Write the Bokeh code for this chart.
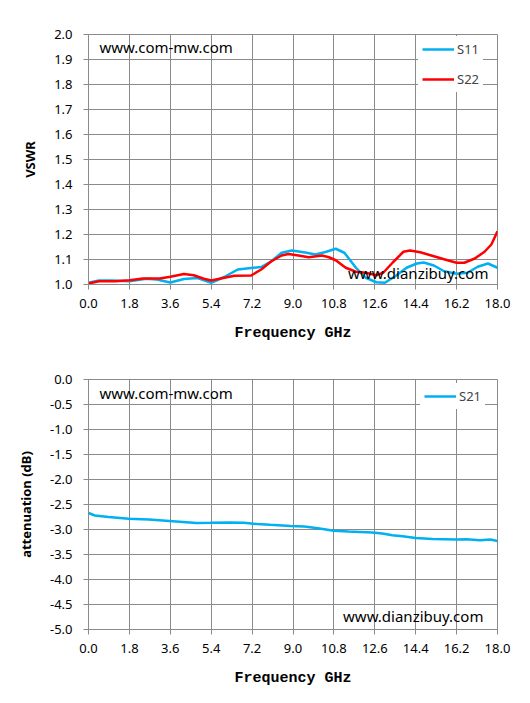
from bokeh.plotting import figure
from bokeh.models import Range1d, FixedTicker, PrintfTickFormatter, Legend, LegendItem, Label
from bokeh.layouts import column
from bokeh.embed import file_html
from bokeh.resources import INLINE

# ---- data ----
s11_f = [0.0, 0.46, 1.06, 1.8, 2.55, 3.0, 3.6, 4.2, 4.8, 5.4, 5.97, 6.57, 7.16, 7.6, 8.05, 8.5,
         8.95, 9.54, 9.99, 10.43, 10.88, 11.26, 11.77, 12.2, 12.67, 13.04, 13.5, 14.0, 14.45,
         14.75, 15.2, 15.65, 16.2, 16.68, 17.13, 17.58, 18.0]
s11_v = [1.007, 1.016, 1.016, 1.013, 1.023, 1.020, 1.008, 1.022, 1.026, 1.007, 1.030, 1.060,
         1.066, 1.070, 1.093, 1.127, 1.136, 1.128, 1.120, 1.130, 1.143, 1.127, 1.067, 1.027,
         1.009, 1.007, 1.033, 1.067, 1.084, 1.088, 1.076, 1.053, 1.043, 1.047, 1.071, 1.084, 1.067]

s22_f = [0.0, 0.46, 1.2, 1.8, 2.4, 3.14, 3.6, 4.2, 4.63, 5.08, 5.4, 5.82, 6.42, 7.16, 7.6, 8.05,
         8.5, 8.8, 9.24, 9.69, 10.28, 10.58, 10.88, 11.32, 11.77, 12.2, 12.67, 12.97, 13.4,
         13.86, 14.15, 14.6, 15.2, 15.8, 16.2, 16.54, 17.0, 17.43, 17.73, 18.0]
s22_v = [1.004, 1.013, 1.013, 1.017, 1.024, 1.024, 1.031, 1.042, 1.037, 1.023, 1.016, 1.024,
         1.035, 1.036, 1.060, 1.093, 1.116, 1.122, 1.116, 1.109, 1.116, 1.109, 1.097, 1.067,
         1.051, 1.047, 1.037, 1.047, 1.089, 1.131, 1.136, 1.129, 1.113, 1.097, 1.087, 1.087,
         1.104, 1.131, 1.160, 1.213]

s21_f = [0.0, 0.28, 0.88, 1.77, 2.66, 3.56, 4.15, 4.75, 5.37, 6.23, 6.83, 7.42, 8.0, 8.9, 9.5,
         10.09, 10.8, 11.44, 12.48, 12.93, 13.37, 13.82, 14.4, 15.14, 16.2, 16.64, 17.23, 17.68, 18.0]
s21_v = [-2.67, -2.72, -2.75, -2.785, -2.80, -2.83, -2.85, -2.87, -2.866, -2.86, -2.866, -2.89,
         -2.906, -2.93, -2.94, -2.973, -3.027, -3.04, -3.06, -3.08, -3.114, -3.134, -3.168,
         -3.188, -3.20, -3.195, -3.215, -3.20, -3.23]

x_ticks = [0.0, 1.8, 3.6, 5.4, 7.2, 9.0, 10.8, 12.6, 14.4, 16.2, 18.0]
vswr_ticks = [1.0, 1.1, 1.2, 1.3, 1.4, 1.5, 1.6, 1.7, 1.8, 1.9, 2.0]
att_ticks = [0.0, -0.5, -1.0, -1.5, -2.0, -2.5, -3.0, -3.5, -4.0, -4.5, -5.0]

BLUE = "#00B0F0"
RED = "#FF0000"
GRID = "#8a8a8a"
TICK_FONT = "Noto Sans"


def style(p, yticks, ylabel):
    p.xaxis.ticker = FixedTicker(ticks=x_ticks)
    p.yaxis.ticker = FixedTicker(ticks=yticks)
    p.xaxis.formatter = PrintfTickFormatter(format="%.1f")
    p.yaxis.formatter = PrintfTickFormatter(format="%.1f")
    for ax in (p.xaxis, p.yaxis):
        ax.axis_line_color = GRID
        ax.major_tick_line_color = GRID
        ax.minor_tick_line_color = None
        ax.major_tick_in = 0
        ax.major_tick_out = 5
        ax.major_label_text_font = TICK_FONT
        ax.major_label_text_font_size = "13px"
        ax.major_label_text_color = "#000000"
        ax.axis_label_text_color = "#000000"
    p.xaxis.major_label_standoff = 9
    p.yaxis.major_label_standoff = 11
    p.xaxis.axis_label = "Frequency GHz"
    p.xaxis.axis_label_text_font = "Liberation Mono"
    p.xaxis.axis_label_text_font_style = "bold"
    p.xaxis.axis_label_text_font_size = "15px"
    p.xaxis.axis_label_standoff = 14
    p.yaxis.axis_label = ylabel
    p.yaxis.axis_label_text_font = "Noto Sans"
    p.yaxis.axis_label_text_font_style = "bold"
    p.yaxis.axis_label_text_font_size = "13px"
    p.yaxis.axis_label_standoff = 12
    p.xgrid.ticker = FixedTicker(ticks=x_ticks)
    p.ygrid.ticker = FixedTicker(ticks=yticks)
    p.xgrid.grid_line_color = GRID
    p.ygrid.grid_line_color = GRID
    p.outline_line_color = GRID
    p.background_fill_color = "white"
    p.border_fill_color = "white"


# ---- top chart ----
p1 = figure(frame_width=409, frame_height=250, min_border_left=87, min_border_right=26,
            min_border_top=34, min_border_bottom=69, x_range=Range1d(0, 18),
            y_range=Range1d(1.0, 2.0), output_backend="svg", toolbar_location=None)
style(p1, vswr_ticks, "VSWR")
r11 = p1.line(s11_f, s11_v, line_color=BLUE, line_width=2.5)
r22 = p1.line(s22_f, s22_v, line_color=RED, line_width=2.5)
leg1 = Legend(items=[LegendItem(label="S11", renderers=[r11]),
                     LegendItem(label="S22", renderers=[r22])],
              location=(330, 192), border_line_alpha=0, background_fill_color="white",
              background_fill_alpha=1.0, glyph_width=32, glyph_height=16, label_height=16,
              label_standoff=3, spacing=12, padding=4, margin=0,
              label_text_font=TICK_FONT, label_text_font_size="13px")
p1.add_layout(leg1)
p1.add_layout(Label(x=0.48, y=1.952, text="www.com-mw.com", text_font=TICK_FONT,
                    text_font_size="15px", text_baseline="middle", text_align="left",
                    text_color="#000000"))
p1.add_layout(Label(x=17.6, y=1.048, text="www.dianzibuy.com", text_font=TICK_FONT,
                    text_font_size="15px", text_baseline="middle", text_align="right",
                    text_color="#000000"))

# ---- bottom chart ----
p2 = figure(frame_width=409, frame_height=250, min_border_left=88, min_border_right=25,
            min_border_top=26, min_border_bottom=64, x_range=Range1d(0, 18),
            y_range=Range1d(-5.0, 0.0), output_backend="svg", toolbar_location=None)
style(p2, att_ticks, "attenuation (dB)")
r21 = p2.line(s21_f, s21_v, line_color=BLUE, line_width=2.5)
leg2 = Legend(items=[LegendItem(label="S21", renderers=[r21])],
              location=(332, 220), border_line_alpha=0, background_fill_color="white",
              background_fill_alpha=1.0, glyph_width=32, glyph_height=16, label_height=16,
              label_standoff=3, spacing=0, padding=4, margin=0,
              label_text_font=TICK_FONT, label_text_font_size="13px")
p2.add_layout(leg2)
p2.add_layout(Label(x=0.48, y=-0.26, text="www.com-mw.com", text_font=TICK_FONT,
                    text_font_size="15px", text_baseline="middle", text_align="left",
                    text_color="#000000"))
p2.add_layout(Label(x=17.38, y=-4.72, text="www.dianzibuy.com", text_font=TICK_FONT,
                    text_font_size="15px", text_baseline="middle", text_align="right",
                    text_color="#000000"))

layout = column(p1, p2, spacing=0)
open("out.html", "w").write(file_html(layout, INLINE))
